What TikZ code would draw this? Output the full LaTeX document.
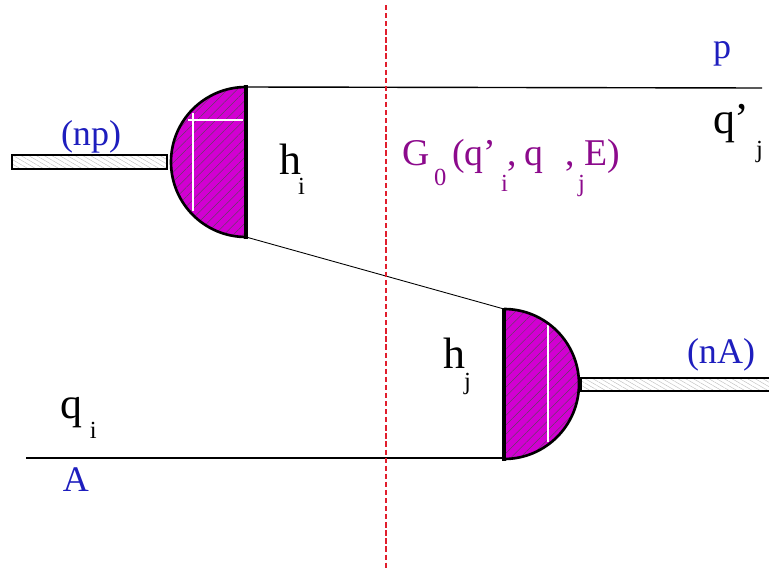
\documentclass[tikz,border=0pt]{standalone}
\usepackage{fontspec}
\setmainfont{Liberation Serif}
\usetikzlibrary{patterns.meta}

\definecolor{lobe}{RGB}{210,0,210}
\definecolor{labelblue}{RGB}{30,30,190}
\definecolor{labelpurple}{RGB}{140,10,140}
\definecolor{cutred}{RGB}{225,30,45}

\tikzset{
	lbl/.style={anchor=base west, inner sep=0pt, outer sep=0pt},
	big/.style={lbl, font=\fontsize{25}{25}\selectfont},
	mid/.style={lbl, font=\fontsize{21.5}{22}\selectfont, text=labelpurple},
	small/.style={lbl, font=\fontsize{20.5}{21}\selectfont, text=labelblue},
	sub/.style={lbl, font=\fontsize{14}{15}\selectfont},
	hatchfill/.style={pattern={Lines[angle=45,distance=3.8pt,line width=0.2pt]}, pattern color=black!70},
	barfill/.style={pattern={Lines[angle=-30,distance=2.2pt,line width=0.25pt]}, pattern color=black!25},
	line/.style={line width=0.8pt},
	rim/.style={line width=1.3pt}
}

\begin{document}
\begin{tikzpicture}[x=0.02cm, y=-0.02cm]
	\useasboundingbox (0,0) rectangle (769,572);

	% Define coordinates
	\coordinate (TL) at (246,87);
	\coordinate (BL) at (246,237);
	\coordinate (TR) at (504,309);
	\coordinate (BR) at (504,459);
	\coordinate (P) at (762,88);
	\coordinate (A) at (26,458);
	\coordinate (AR) at (504,458);
	\coordinate (C1) at (386,5);
	\coordinate (C2) at (386,570);

	% Bars
	\draw[rim, barfill] (12,155) rectangle (167,169);
	\draw[rim, barfill] (581,378) rectangle (775,391);

	% Left lobe
	\fill[lobe] (TL) arc[start angle=270, end angle=90, radius=75] -- cycle;
	\fill[hatchfill] (TL) arc[start angle=270, end angle=90, radius=75] -- cycle;
	\draw[white, line width=0.7pt] (188,120) -- (243,120);
	\draw[white, line width=0.7pt] (193,113) -- (193,211);
	\draw[line width=1.5pt] (TL) arc[start angle=270, end angle=90, radius=75];
	\draw[line width=2pt] (246,85) -- (246,239);

	% Right lobe
	\fill[lobe] (TR) arc[start angle=-90, end angle=90, radius=75] -- cycle;
	\fill[hatchfill] (TR) arc[start angle=-90, end angle=90, radius=75] -- cycle;
	\draw[white, line width=0.7pt] (548,325) -- (548,442);
	\draw[line width=1.5pt] (TR) arc[start angle=-90, end angle=90, radius=75];
	\draw[line width=2pt] (504,308) -- (504,461);

	% Lines
	\draw[line] (TL) -- (P);
	\draw[line width=0.5pt] (BL) -- (TR);
	\draw[line] (A) -- (AR);
	\draw[cutred, line width=0.7pt, dash pattern=on 3pt off 1.6pt] (C1) -- (C2);

	% Labels
	\node[small] (np) at (61,145) {(np)};
	\node[small] (nA) at (687,363) {(nA)};
	\node[small] (p) at (713,58) {p};
	\node[small] (a) at (63,491) {A};

	\node[big] (hi) at (279,174) {h};
	\node[sub] (hisub) at (298,194) {i};
	\node[big] (hj) at (443,368) {h};
	\node[sub] (hjsub) at (464,389) {j};
	\node[big] (qj) at (713,133) {q’};
	\node[sub] (qjsub) at (756,157) {j};
	\node[big] (qi) at (60,418) {q};
	\node[sub] (qisub) at (90,438) {i};

	\node[mid] (g) at (402,165) {G};
	\node[sub, text=labelpurple] (gsub) at (434,185) {0};
	\node[mid] (gq) at (452,165) {(q’};
	\node[sub, text=labelpurple] (gi) at (501,191) {i};
	\node[mid] (gc) at (507,165) {,};
	\node[mid] (gq2) at (524,165) {q};
	\node[mid] (gc2) at (565,165) {,};
	\node[sub, text=labelpurple] (gj) at (578,191) {j};
	\node[mid] (ge) at (584,165) {E)};
\end{tikzpicture}
\end{document}
